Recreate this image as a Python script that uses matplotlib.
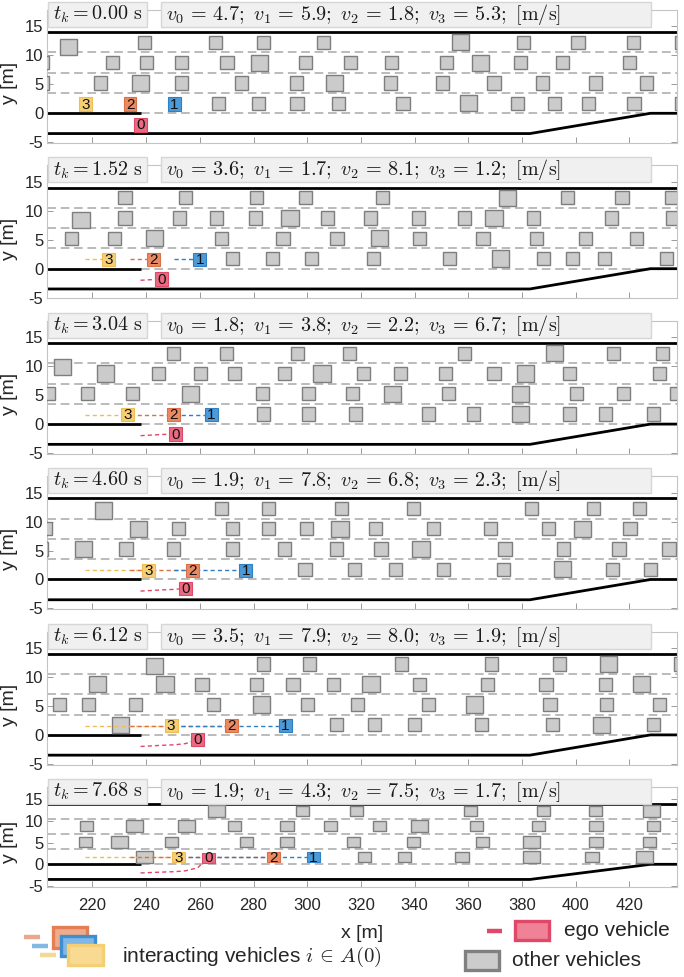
import matplotlib
matplotlib.use('Agg')
import matplotlib.pyplot as plt
from matplotlib.patches import Rectangle

plt.rcParams['font.family'] = ['Liberation Sans', 'DejaVu Sans']
plt.rcParams['mathtext.fontset'] = 'cm'
plt.rcParams['axes.unicode_minus'] = False

# ---------------- data ----------------
t_k = [0.00, 1.52, 3.04, 4.60, 6.12, 7.68]
v0 = [4.7, 3.6, 1.8, 1.9, 3.5, 1.9]
v1 = [5.9, 1.7, 3.8, 7.8, 7.9, 4.3]
v2 = [1.8, 8.1, 2.2, 6.8, 8.0, 7.5]
v3 = [5.3, 1.2, 6.7, 2.3, 1.9, 1.7]

# ego vehicle (0) and interacting vehicles (1, 2, 3) at each time step
x_ego = [237.9, 245.8, 250.8, 254.7, 259.2, 263.1]
y_ego = [-2.0, -1.8, -1.7, -1.5, -0.8, 1.5]
x_veh1 = [250.4, 260.0, 264.3, 277.1, 291.8, 302.4]
x_veh2 = [234.0, 242.7, 250.1, 257.3, 271.9, 287.5]
x_veh3 = [217.3, 226.0, 233.0, 240.9, 249.3, 252.1]
y_interacting = 1.6

# other vehicles: x positions per lane (lane 1 = lowest main lane)
p1_lane1 = [266.9, 281.8, 296.2, 311.6, 335.7, 360.2, 378.5, 392.1, 404.7, 421.8, 439.5]
p1_lane2 = [201.5, 223.1, 237.9, 253.1, 275.4, 296.0, 310.1, 331.0, 350.4, 369.6, 387.6, 407.3, 426.4]
p1_lane3 = [201.5, 227.5, 240.2, 253.1, 270.1, 282.1, 299.4, 316.0, 331.3, 351.9, 364.7, 379.5, 395.1, 420.0]
p1_lane4 = [239.4, 265.8, 283.7, 306.1, 357.1, 380.6, 400.9, 421.5, 439.5]
p1_big = [237.9, 310.1, 282.1, 360.2, 357.1, 364.7]
p1_shifted = [(211.1, 11.4)]

p2_lane1 = [272.2, 287.2, 301.7, 324.6, 353.1, 371.9, 388.2, 398.9, 410.8, 434.0]
p2_lane2 = [212.2, 228.2, 243.2, 268.1, 291.0, 311.1, 326.9, 341.7, 365.5, 385.6, 403.8, 422.7]
p2_lane3 = [232.1, 252.4, 266.1, 280.8, 293.6, 307.6, 323.5, 341.5, 358.6, 369.6, 384.4, 413.4, 436.3]
p2_lane4 = [232.1, 254.7, 281.1, 299.3, 328.1, 374.5, 397.1, 417.3, 435.6]
p2_big = [293.6, 369.6, 243.2, 326.9, 371.9, 374.5]
p2_shifted = [(215.7, 8.4)]

p3_lane1 = [283.7, 300.5, 318.0, 345.2, 362.0, 379.5, 397.9, 411.1, 429.2]
p3_lane2 = [203.5, 218.3, 235.0, 256.6, 283.4, 300.6, 316.8, 331.8, 352.7, 379.5, 400.5, 418.0, 437.5]
p3_lane3 = [224.9, 244.7, 260.3, 273.0, 291.6, 305.5, 321.1, 334.8, 351.6, 369.6, 381.5, 397.9, 431.3]
p3_lane4 = [250.1, 269.9, 296.3, 315.7, 358.5, 392.2, 414.2, 432.5]
p3_big = [392.2, 224.9, 305.5, 381.5, 256.6, 331.8, 379.5]
p3_shifted = [(208.9, 9.9)]

p4_lane1 = [299.2, 317.7, 333.0, 350.8, 373.0, 395.1, 413.9, 427.9]
p4_lane2 = [201.0, 216.8, 232.5, 250.1, 272.2, 291.6, 311.0, 327.5, 342.4, 373.7, 395.6, 416.2, 434.8]
p4_lane3 = [202.5, 237.1, 251.9, 272.2, 285.6, 299.7, 312.2, 325.3, 347.2, 368.4, 389.8, 402.7, 420.3]
p4_lane4 = [268.1, 285.6, 312.9, 339.6, 383.7, 406.6, 423.8]
p4_big = [237.1, 312.2, 402.7, 216.8, 342.4, 395.1]
p4_shifted = [(224.1, 11.9)]

p5_lane1 = [230.5, 310.9, 325.0, 340.0, 365.0, 391.4, 409.8, 429.0]
p5_lane2 = [207.8, 218.5, 236.0, 265.0, 282.9, 300.2, 318.8, 345.1, 362.3, 390.5, 411.6, 431.3]
p5_lane3 = [221.8, 247.0, 260.8, 281.1, 294.7, 309.8, 323.8, 341.7, 367.3, 389.0, 411.1, 424.6]
p5_lane4 = [283.7, 300.8, 335.1, 368.8, 394.0, 412.4, 439.0]
p5_big = [412.4, 221.8, 247.0, 323.8, 424.6, 282.9, 362.3, 230.5, 409.8]
p5_shifted = [(243.2, 11.9)]

p6_lane1 = [239.4, 321.4, 336.3, 357.7, 383.7, 406.1, 425.6]
p6_lane2 = [217.3, 230.0, 249.6, 277.3, 292.5, 317.3, 339.7, 365.3, 383.7, 407.6, 427.6]
p6_lane3 = [217.7, 235.6, 255.1, 272.8, 292.5, 308.6, 326.9, 341.8, 363.1, 386.3, 407.6, 429.2]
p6_lane4 = [266.1, 298.2, 318.5, 360.8, 388.0, 407.3, 428.4]
p6_big = [266.1, 428.4, 235.6, 255.1, 341.8, 230.0, 383.7, 239.4, 425.6]
p6_shifted = []

# road geometry
lane_width = 3.5
road_top = 14.0
merge_lane_end = 237.9
taper_start = 383.0
taper_end = 427.9

x_ticks = [220, 240, 260, 280, 300, 320, 340, 360, 380, 400, 420]
y_ticks = [-5, 0, 5, 10, 15]

panels_lanes = [
    (p1_lane1, p1_lane2, p1_lane3, p1_lane4, p1_big, p1_shifted),
    (p2_lane1, p2_lane2, p2_lane3, p2_lane4, p2_big, p2_shifted),
    (p3_lane1, p3_lane2, p3_lane3, p3_lane4, p3_big, p3_shifted),
    (p4_lane1, p4_lane2, p4_lane3, p4_lane4, p4_big, p4_shifted),
    (p5_lane1, p5_lane2, p5_lane3, p5_lane4, p5_big, p5_shifted),
    (p6_lane1, p6_lane2, p6_lane3, p6_lane4, p6_big, p6_shifted),
]

# ---------------- style ----------------
C_EGO_F, C_EGO_E = '#ea6a82', '#e0486a'
C1_F, C1_E = '#4d9ad8', '#2f7fc4'
C2_F, C2_E = '#ea8a62', '#d8704a'
C3_F, C3_E = '#f6cf74', '#efbd55'
C_GRAY_F, C_GRAY_E = '#cbcbcb', '#7e7e7e'
T_EGO, T1, T2, T3 = '#e0486a', '#2f7fc4', '#d8704a', '#efbd55'

W, H = 684, 977
fig = plt.figure(figsize=(W / 100, H / 100), dpi=100)

AX_L, AX_R = 47.4, 677.0
XLIM = (203.2, 437.8)
YLIM = (-5.13, 17.84)
tops = [10.0, 165.4, 320.8, 476.2, 631.6, 787.1]
bots = [143.0, 298.4, 453.8, 609.2, 764.6, 886.5]

SMALL = (4.9, 2.3)
BIG = (6.4, 2.8)
CAR = (4.8, 2.3)


def add_car(ax, x, y, size, fc, ec, lw=1.0, z=3):
    L, Wd = size
    ax.add_patch(Rectangle((x - L / 2, y - Wd / 2), L, Wd, facecolor=fc,
                           edgecolor=ec, linewidth=lw, zorder=z))


dash_lane = (0, (4.8, 2.6))
dash_trail = (0, (3.0, 2.2))

for k in range(6):
    top, bot = tops[k], bots[k]
    ax = fig.add_axes([AX_L / W, 1 - bot / H, (AX_R - AX_L) / W, (bot - top) / H])
    ax.set_xlim(*XLIM)
    ax.set_ylim(*YLIM)

    xa, xb = XLIM[0] - 5, XLIM[1] + 5
    # road boundaries
    ax.plot([xa, xb], [road_top, road_top], color='black', lw=2.0, zorder=2, solid_capstyle='butt')
    ax.plot([xa, merge_lane_end], [0, 0], color='black', lw=2.0, zorder=2, solid_capstyle='butt')
    ax.plot([xa, taper_start, taper_end, xb], [-lane_width, -lane_width, 0, 0],
            color='black', lw=2.0, zorder=2)
    # lane markings
    for j in (1, 2, 3):
        ax.plot([xa, xb], [j * lane_width] * 2, color='#b5b5b5', lw=1.3, ls=dash_lane, zorder=1)
    ax.plot([merge_lane_end, taper_end], [0, 0], color='#b5b5b5', lw=1.3, ls=dash_lane, zorder=1)

    # other vehicles
    l1, l2, l3, l4, big, shifted = panels_lanes[k]
    for j, lane in enumerate((l1, l2, l3, l4)):
        yc = (j + 0.5) * lane_width
        for x in lane:
            add_car(ax, x, yc, BIG if x in big else SMALL, C_GRAY_F, C_GRAY_E)
    for (x, y) in shifted:
        add_car(ax, x, y, BIG, C_GRAY_F, C_GRAY_E)

    # trails
    if k > 0:
        ax.plot(x_ego[:k + 1], y_ego[:k + 1], color=T_EGO, lw=1.0, ls=dash_trail, zorder=4)
        for xs, c in ((x_veh3, T3), (x_veh2, T2), (x_veh1, T1)):
            ax.plot([xs[0], xs[k]], [y_interacting, y_interacting], color=c, lw=1.0,
                    ls=dash_trail, zorder=4)

    # interacting + ego
    for xs, fc, ec, lab in ((x_veh3, C3_F, C3_E, '3'), (x_veh2, C2_F, C2_E, '2'),
                            (x_veh1, C1_F, C1_E, '1')):
        add_car(ax, xs[k], y_interacting, CAR, fc, ec, lw=0.8, z=5)
        ax.text(xs[k], y_interacting - 0.1, lab, ha='center', va='center', fontsize=11,
                color='#111111', zorder=6)
    add_car(ax, x_ego[k], y_ego[k], CAR, C_EGO_F, C_EGO_E, lw=0.8, z=5)
    ax.text(x_ego[k], y_ego[k] - 0.1, '0', ha='center', va='center', fontsize=11,
            color='#111111', zorder=6)

    # axes style
    ax.set_xticks(x_ticks)
    ax.set_yticks(y_ticks)
    ax.tick_params(direction='in', top=True, right=True, length=4.5, width=0.6,
                   color='#8a8a8a', labelsize=12, labelcolor='#262626', pad=3)
    ax.tick_params(axis='x', pad=8)
    for s in ax.spines.values():
        s.set_color('#c4c4c4')
        s.set_linewidth(0.8)
    if k < 5:
        ax.set_xticklabels([])
    else:
        ax.set_xlabel('x [m]', fontsize=14, color='#262626', labelpad=9)
    ax.set_ylabel('y [m]', fontsize=14, color='#262626')
    ax.yaxis.set_label_coords(-0.047, 0.45)

    # title boxes
    bt, bb = top - 8, top + 17
    for (x0, x1, txt) in (
        (48, 147, r'$t_k\mathrm{=%.2f\ s}$' % t_k[k]),
        (161, 651, r'$v_0\,=\,%.1f;\ v_1\,=\,%.1f;\ v_2\,=\,%.1f;\ v_3\,=\,%.1f;\ [\mathrm{m/s}]$'
         % (v0[k], v1[k], v2[k], v3[k])),
    ):
        fig.add_artist(Rectangle((x0 / W, 1 - bb / H), (x1 - x0) / W, (bb - bt) / H,
                                 transform=fig.transFigure, facecolor='#f0f0f0',
                                 edgecolor='#d6d6d6', linewidth=1.0, zorder=5))
        fig.text((x0 + 5) / W, 1 - (bt + bb) / 2 / H, txt, ha='left', va='center',
                 fontsize=14.5, color='#1a1a1a', zorder=6)

# ---------------- legend ----------------
lax = fig.add_axes([0, 0, 1, 1], zorder=10)
lax.set_xlim(0, W)
lax.set_ylim(H, 0)
lax.axis('off')
lax.patch.set_alpha(0)

for (xa, xb, y, c) in ((24, 40, 936.8, '#eaa78e'), (32, 48, 945.8, '#82b8e2'),
                       (40, 56, 954.7, '#f3d996')):
    lax.plot([xa, xb], [y, y], color=c, lw=3.2, solid_capstyle='butt')
for (x0, y0, w, h, fc, ec) in ((52.5, 927, 34.5, 20.5, '#eeab8e', '#e27f55'),
                               (60.5, 935.5, 34.5, 20.5, '#7fb7e6', '#3f8fd0'),
                               (68, 944.5, 35, 20.5, '#f8da92', '#f4cf76')):
    lax.add_patch(Rectangle((x0, y0), w, h, facecolor=fc, edgecolor=ec, linewidth=2.4))
lax.text(122, 957, r'interacting vehicles $i\,\in\,A(0)$', fontsize=15, ha='left',
         va='center', color='#262626')

lax.plot([487, 502], [930.7, 930.7], color=C_EGO_E, lw=3.2, solid_capstyle='butt')
lax.add_patch(Rectangle((515, 921), 34, 19, facecolor='#ef8296', edgecolor=C_EGO_E, linewidth=2.4))
lax.text(563.5, 930, 'ego vehicle', fontsize=15, ha='left', va='center', color='#262626')
lax.add_patch(Rectangle((464.5, 951), 34, 19, facecolor='#cccccc', edgecolor='#808080', linewidth=2.4))
lax.text(512, 960, 'other vehicles', fontsize=15, ha='left', va='center', color='#262626')

fig.savefig('out.png', dpi=100)
